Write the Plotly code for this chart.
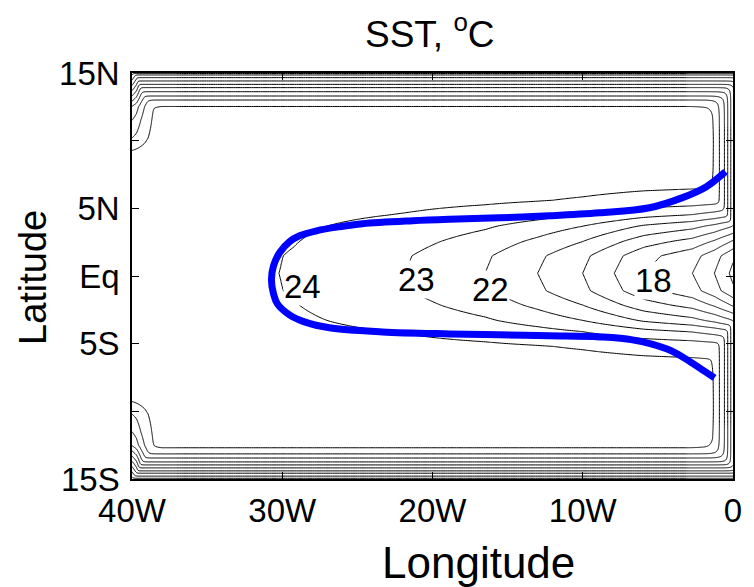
import numpy as np
import plotly.graph_objects as go

# ------------------------------------------------------------------
# Values
# ------------------------------------------------------------------
T_INTERIOR = 24.6          # warm interior (between the 24 and 25 contours)

# Cold-tongue axis SST: longitude where each contour's tip sits
tongue_lon = [-40, -34, -29.2, -21.8, -16.5, -13.0, -10.0, -7.9, -5.9, -2.7, -1.24, -0.25, 0]
tongue_sst = [24.6, 24.45, 24.0, 23.0, 22.0, 21.0, 20.0, 19.0, 18.0, 17.0, 16.0, 15.0, 14.7]
tongue_center_lat = 0.2
tongue_halfwidth = 4.3
# meridional shape of the tongue (fraction of axis anomaly vs |lat|/halfwidth)
shape_u = [0, 0.3, 0.55, 0.81, 1.0, 1.25, 1.5, 1.8, 2.2, 10]
shape_frac = [1, 0.95, 0.78, 0.565, 0.35, 0.13, 0.05, 0.015, 0, 0]

# Boundary layers: SST against distance (deg) from the wall
north_dist = [0, 0.04, 0.14, 0.34, 0.59, 0.84, 1.08, 1.38, 1.70, 1.99, 2.36, 3.2, 5, 40]
north_sst = [14.8, 15, 16, 17, 18, 19, 20, 21, 22, 23, 24, 25.5, 27, 27]
south_dist = [0, 0.06, 0.21, 0.43, 0.60, 0.82, 1.04, 1.26, 1.55, 1.85, 2.2, 3.0, 5, 40]
south_sst = [14.8, 15, 16, 17, 18, 19, 20, 21, 22, 23, 24, 25.5, 27, 27]
east_dist = [0, 0.15, 0.35, 0.57, 0.90, 1.23, 1.8, 3, 45]
east_sst = [19.3, 20, 21, 22, 23, 24, 25.5, 27, 27]
# western corners: extra cooling vs distance from north/south wall,
# weighted by distance from the western wall
corner_dist = [0, 2.5, 3.5, 4.8, 5.6, 6.0, 7.0, 40]
corner_cool = [10, 3.5, 2.6, 1.6, 0.6, 0.3, 0, 0]
west_dist = [0, 0.3, 0.6, 1.0, 1.5, 2.0, 45]
west_weight = [1, 0.85, 0.6, 0.35, 0.1, 0, 0]

# Blue curve (lon, lat)
blue_lon = [-0.50, -1.77, -3.36, -5.56, -8.89, -12.22, -15.54, -18.87, -21.33, -24.66,
            -26.19, -27.72, -28.85, -29.52, -30.18, -30.58, -30.72, -30.58, -30.32,
            -29.52, -28.52, -26.86, -23.33, -18.87, -15.54, -12.22, -8.89, -6.69,
            -4.43, -3.36, -2.23, -1.23]
blue_lat = [7.71, 6.60, 5.79, 5.04, 4.67, 4.45, 4.30, 4.19, 4.08, 3.86,
            3.64, 3.34, 2.97, 2.53, 1.72, 0.75, -0.28, -1.32, -2.06,
            -2.87, -3.39, -3.83, -4.13, -4.28, -4.35, -4.42, -4.50, -4.72,
            -5.38, -5.98, -6.79, -7.53]

# Contour labels
label_text = ["24", "23", "22", "18"]
label_lon = [-28.65, -21.07, -16.14, -5.29]
label_lat = [-0.8, -0.28, -1.02, -0.36]

x_tickvals = [-40, -30, -20, -10, 0]
x_ticktext = ["40W", "30W", "20W", "10W", "0"]
y_tickvals = [-15, -5, 0, 5, 15]
y_ticktext = ["15S", "5S", "Eq", "5N", "15N"]
y_minor_ticks = [-10, 10]

# ------------------------------------------------------------------
# Build the SST field on a grid
# ------------------------------------------------------------------
lon = np.unique(np.round(np.concatenate([
    np.arange(-40, -37, 0.05), np.arange(-37, -3, 0.15), np.arange(-3, 0.0001, 0.03)]), 3))
lat = np.unique(np.round(np.concatenate([
    np.arange(-15, -11, 0.04), np.arange(-11, 11, 0.1), np.arange(11, 15.0001, 0.04)]), 3))
LON, LAT = np.meshgrid(lon, lat)

t0 = np.interp(LON, tongue_lon, tongue_sst)
u = np.abs(LAT - tongue_center_lat) / tongue_halfwidth
T_tongue = T_INTERIOR - (T_INTERIOR - t0) * np.interp(u, shape_u, shape_frac)

dN = 15 - LAT
dS = LAT + 15
dE = -LON
dW = LON + 40
T_north = np.interp(dN, north_dist, north_sst)
T_south = np.interp(dS, south_dist, south_sst)
T_east = np.interp(dE, east_dist, east_sst)
wW = np.interp(dW, west_dist, west_weight)
T_nw = T_INTERIOR - np.interp(dN, corner_dist, corner_cool) * wW
T_sw = T_INTERIOR - np.interp(dS, corner_dist, corner_cool) * wW


def smooth_min(arrs, k):
    f = np.stack(arrs)
    mm = f.min(axis=0)
    return mm - k * np.log(np.exp(-(f - mm) / k).sum(axis=0))


T_walls = smooth_min([T_north, T_south, T_east], 0.8)
Z = smooth_min([T_tongue, T_walls, T_nw, T_sw], 0.3)
Z = np.round(Z, 3)

# ------------------------------------------------------------------
FONT = "Liberation Sans, Arial, Helvetica, sans-serif"
fig = go.Figure()
fig.add_trace(go.Contour(
    x=lon, y=lat, z=Z,
    contours=dict(start=10, end=24, size=1, coloring="lines"),
    colorscale=[[0, "black"], [1, "black"]],
    line=dict(width=1, color="black"),
    showscale=False, hoverinfo="skip"))
fig.add_trace(go.Scatter(
    x=blue_lon, y=blue_lat, mode="lines",
    line=dict(color="#0000ff", width=7, shape="spline"),
    hoverinfo="skip", showlegend=False))

for t, xx, yy in zip(label_text, label_lon, label_lat):
    fig.add_annotation(x=xx, y=yy, xref="x", yref="y", text=t, showarrow=False,
                       xanchor="center", yanchor="middle",
                       font=dict(family=FONT, size=33, color="black"),
                       bgcolor="white", borderpad=0)

# page body has an 8 px margin: the figure is placed at (8, 8)
OFF = 8
W, H = 746, 579
ml, mr, mt, mb = 124, 21, 65, 108
pw, ph = W - ml - mr, H - mt - mb


def px(xp):
    return (xp - OFF - ml) / pw


def py(yp):
    return (H - mb - (yp - OFF)) / ph


fig.add_annotation(x=px(430), y=py(31), xref="paper", yref="paper",
                   xanchor="center", yanchor="middle",
                   text="SST, <sup>o</sup>C", showarrow=False,
                   font=dict(family=FONT, size=37, color="black"))
fig.add_annotation(x=px(478), y=py(562), xref="paper", yref="paper",
                   xanchor="center", yanchor="middle",
                   text="Longitude", showarrow=False,
                   font=dict(family=FONT, size=44, color="black"))
fig.add_annotation(x=px(33), y=py(278), xref="paper", yref="paper",
                   xanchor="center", yanchor="middle",
                   text="Latitude", showarrow=False, textangle=-90,
                   font=dict(family=FONT, size=38, color="black"))

axis_common = dict(showline=True, linecolor="black", linewidth=1.5, mirror="ticks",
                   ticks="inside", ticklen=7, tickwidth=1.2, tickcolor="black",
                   showgrid=False, zeroline=False,
                   tickfont=dict(family=FONT, size=33, color="black"))
fig.update_xaxes(range=[-40, 0], tickvals=x_tickvals, ticktext=x_ticktext,
                 ticklabelstandoff=2, **axis_common)
fig.update_yaxes(range=[-15, 15], tickvals=y_tickvals, ticktext=y_ticktext,
                 ticklabelstandoff=4,
                 minor=dict(tickvals=y_minor_ticks, ticks="inside", ticklen=7,
                            tickwidth=1.2, tickcolor="black", showgrid=False),
                 **axis_common)

fig.update_layout(width=W, height=H, margin=dict(l=ml, r=mr, t=mt, b=mb),
                  paper_bgcolor="white", plot_bgcolor="white", showlegend=False)
fig.write_html("out.html")
